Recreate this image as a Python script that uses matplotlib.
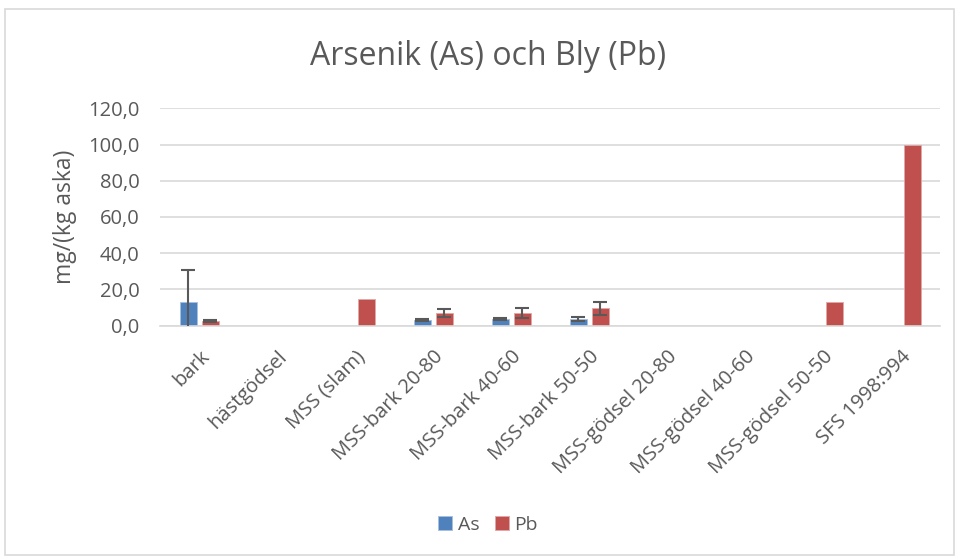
import numpy as np
import matplotlib
matplotlib.use('Agg')
import matplotlib.pyplot as plt
from matplotlib.patches import Rectangle

plt.rcParams['font.family'] = ['Open Sans', 'DejaVu Sans']

categories = ['bark', 'hästgödsel', 'MSS (slam)', 'MSS-bark 20-80', 'MSS-bark 40-60',
              'MSS-bark 50-50', 'MSS-gödsel 20-80', 'MSS-gödsel 40-60',
              'MSS-gödsel 50-50', 'SFS 1998:994']
nan = np.nan
as_vals = [13.3, nan, nan, 3.2, 3.6, 3.6, nan, nan, nan, nan]
as_err = [17.6, nan, nan, 0.4, 0.4, 1.0, nan, nan, nan, nan]
pb_vals = [2.4, nan, 14.6, 6.9, 7.0, 9.6, nan, nan, 13.3, 100.0]
pb_err = [0.6, nan, nan, 2.3, 2.8, 3.7, nan, nan, nan, nan]

txt = '#595959'
grid = '#d9d9d9'

fig = plt.figure(figsize=(9.57, 5.59), dpi=100)
fig.patches.append(Rectangle((5/957, 4/559), 949/957, 546/559, transform=fig.transFigure,
                             fill=False, edgecolor=grid, lw=1.2))
ax = fig.add_axes([0.1676, 0.4174, 0.815, 0.3889])

x = np.arange(len(categories))
w = 0.22
off = 0.14
ax.bar(x - off, as_vals, w, color='#4f81bd', edgecolor='#a7bfde', lw=0.6, label='As', zorder=2)
ax.bar(x + off, pb_vals, w, color='#c0504d', edgecolor='#dfa7a6', lw=0.6, label='Pb', zorder=2)
ax.errorbar(x - off, as_vals, yerr=as_err, fmt='none', ecolor=txt, elinewidth=1.5,
            capsize=5, capthick=1.5, zorder=3)
ax.errorbar(x + off, pb_vals, yerr=pb_err, fmt='none', ecolor=txt, elinewidth=1.5,
            capsize=5, capthick=1.5, zorder=3)

ax.set_xlim(-0.5, len(categories) - 0.5)
ax.set_ylim(0, 120)
ax.set_yticks(np.arange(0, 121, 20))
ax.set_yticklabels([f'{v:.1f}'.replace('.', ',') for v in np.arange(0, 121, 20)])
ax.yaxis.grid(True, color=grid, lw=1.2, zorder=0)
ax.set_axisbelow(True)
for s in ['top', 'right', 'left']:
    ax.spines[s].set_visible(False)
ax.spines['bottom'].set_color(grid)
ax.spines['bottom'].set_linewidth(1.2)
ax.tick_params(length=0, colors=txt, labelsize=14.5)
ax.tick_params(axis='y', pad=15)
ax.set_xticks(x)
ax.set_xticklabels(categories, rotation=45, ha='right', rotation_mode='anchor')
ax.tick_params(axis='x', pad=15)
ax.set_ylabel('mg/(kg aska)', color=txt, fontsize=16.5, labelpad=8)

fig.text(0.51, 0.899, 'Arsenik (As) och Bly (Pb)', ha='center', va='center', color=txt, fontsize=23)
fig.legend(loc='center', bbox_to_anchor=(0.51, 0.061), ncol=2, frameon=False, fontsize=14,
           labelcolor=txt, handlelength=0.7, handleheight=0.7, handletextpad=0.3, columnspacing=0.8)

fig.savefig('out.png', dpi=100)
